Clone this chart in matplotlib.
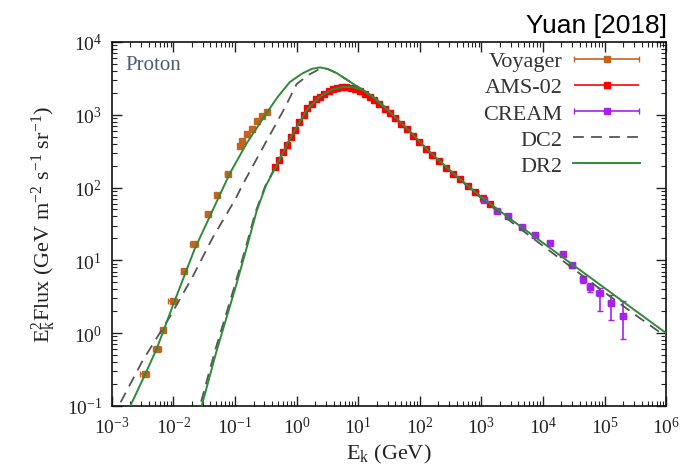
import numpy as np
import matplotlib
matplotlib.use('Agg')
import matplotlib.pyplot as plt
from matplotlib.container import ErrorbarContainer
from matplotlib.legend_handler import HandlerErrorbar
from matplotlib.ticker import LogLocator, NullFormatter

plt.rcParams['font.family'] = ['Liberation Serif', 'DejaVu Serif']
plt.rcParams['mathtext.fontset'] = 'custom'
plt.rcParams['mathtext.rm'] = 'Liberation Serif'
plt.rcParams['mathtext.it'] = 'Liberation Serif:italic'
plt.rcParams['mathtext.bf'] = 'Liberation Serif:bold'

# Voyager data (E in GeV, E^2 flux)
voyager_E = [3.44e-3, 5.4e-3, 6.7e-3, 9.8e-3, 1.48e-2, 2.2e-2, 3.6e-2, 5.1e-2,
             7.6e-2, 0.12, 0.129, 0.155, 0.187, 0.226, 0.272, 0.328]
voyager_F = [0.277, 0.61, 1.12, 2.8, 7.1, 16.7, 43, 80,
             155, 366, 430, 536, 628, 811, 950, 1080]
voyager_dE = [0.6e-3, 0.8e-3, 0.5e-3, 1.6e-3, 1.5e-3, 3.5e-3, 4e-3, 3e-3,
              6e-3, 8e-3, 8e-3, 9e-3, 1e-2, 1.2e-2, 1.4e-2, 1.6e-2]

# AMS-02
ams_E = [0.45, 0.52, 0.60, 0.70, 0.82, 0.95, 1.1, 1.3, 1.5, 1.75, 2.05, 2.4,
         2.8, 3.3, 3.9, 4.6, 5.4, 6.4, 7.6, 9.0, 10.7, 12.8, 15.3, 18.4, 22,
         27, 33, 40, 50, 62, 78, 98, 125, 160, 205, 265, 345, 450, 600, 800,
         1050, 1400]
ams_F = [190, 240, 309, 389, 490, 617, 794, 1000, 1230, 1413, 1622, 1778,
         1950, 2089, 2239, 2344, 2399, 2399, 2344, 2239, 2089, 1950, 1778,
         1585, 1413, 1202, 1047, 891, 741, 631, 513, 427, 339, 282, 229, 186,
         155, 129, 105, 87, 72, 60]

# CREAM
cream_E = [1.12e3, 1.78e3, 2.7e3, 4.6e3, 7.4e3, 1.29e4, 2.1e4, 3.0e4,
           4.5e4, 5.8e4, 8.3e4, 1.26e5, 2.0e5]
cream_F = [68, 48, 40, 29, 22.4, 17.4, 12.3, 8.5, 5.5, 4.3, 3.6, 2.6, 1.74]
cream_lo = [3, 2.5, 2, 1.5, 1.2, 1.0, 0.8, 0.7, 0.6, 0.6, 1.6, 1.1, 0.9]
cream_hi = [3, 2.5, 2, 1.5, 1.2, 1.0, 0.8, 0.7, 0.6, 0.6, 0.6, 0.7, 1.05]
cream_dE = [1.2e2, 2e2, 3e2, 5e2, 8e2, 1.4e3, 2.2e3, 3.2e3, 5e3, 6e3, 9e3,
            1.4e4, 2.2e4]

# DR2 model: interstellar and modulated
dr2_E = [1.0e-3, 2.0e-3, 3.5e-3, 5.4e-3, 1.0e-2, 2.2e-2, 5.0e-2, 8.3e-2,
         0.158, 0.33, 0.5, 0.78, 1.26, 1.78, 2.4, 3.16, 4.5, 6.3, 10, 15.8,
         31.6, 62, 145, 347, 1e3, 3.16e3, 1e4, 3.16e4, 1e5, 3.16e5, 1e6]
dr2_F = [0.028, 0.1, 0.275, 0.62, 2.5, 14.1, 63, 158, 417, 1070, 1780, 2820,
         3720, 4270, 4470, 4270, 3720, 3090, 2400, 1860, 1120, 646, 309, 158,
         74, 35.5, 17.4, 8.5, 4.17, 2.04, 1.0]
dr2_mod_E = [0.025, 0.0288, 0.050, 0.1, 0.158, 0.224, 0.316, 0.479, 0.708,
             1.0, 1.51, 2.4, 3.9, 5.6, 7.9, 11.9, 20, 31.6]
dr2_mod_F = [0.066, 0.1, 0.56, 4.0, 15.8, 47, 105, 205, 398, 676, 1200,
             1780, 2240, 2400, 2400, 2190, 1620, 1120]

# DC2 model: interstellar and modulated
dc2_E = [1e-3, 1.35e-3, 3.16e-3, 8.7e-3, 2.04e-2, 4.4e-2, 0.1, 0.135, 0.316,
         0.63, 1.0, 1.58, 2.4, 3.16, 4.5, 6.3, 10, 15.8, 31.6, 62, 145, 347,
         1e3, 3.16e3, 1e4, 3.16e4, 1e5, 3.16e5, 1e6]
dc2_F = [0.068, 0.107, 0.417, 1.66, 5.9, 20.9, 67.6, 112, 417, 1200, 2630,
         3550, 4270, 4270, 3720, 3090, 2400, 1860, 1120, 646, 309, 155, 71,
         33, 15.8, 7.6, 3.63, 1.78, 0.89]
dc2_mod_E = [0.0235, 0.027, 0.047, 0.095, 0.152, 0.217, 0.31, 0.47, 0.70,
             1.0, 1.51, 2.4, 3.9, 5.6, 7.9, 11.9, 20, 31.6]
dc2_mod_F = dr2_mod_F

green = '#2f8a3c'
grey = '#555555'
brown = '#c4621f'
purple = '#a421ee'

fig = plt.figure(figsize=(6.86, 4.77), dpi=100)
ax = fig.add_axes([0.163, 0.147, 0.808, 0.763])

voy = ax.errorbar(voyager_E, voyager_F, xerr=voyager_dE, fmt='s', ms=4,
                  color=brown, elinewidth=1.2, capsize=2, zorder=3)
ams = ax.errorbar(ams_E, ams_F, xerr=0, fmt='s', ms=5, color='red',
                  elinewidth=1.2, capsize=0, zorder=3)
cre = ax.errorbar(cream_E, cream_F, xerr=cream_dE, yerr=[cream_lo, cream_hi],
                  fmt='s', ms=4.5, color=purple, mfc=purple, elinewidth=1.2,
                  capsize=2, zorder=3)

dc2, = ax.plot(dc2_E, dc2_F, color=grey, lw=1.3, dashes=(6, 4), zorder=4)
ax.plot(dc2_mod_E, dc2_mod_F, color=grey, lw=1.3, dashes=(6, 4), zorder=4)
dr2, = ax.plot(dr2_E, dr2_F, color=green, lw=1.4, zorder=5)
ax.plot(dr2_mod_E, dr2_mod_F, color=green, lw=1.4, zorder=5)

ax.set_xscale('log')
ax.set_yscale('log')
ax.set_xlim(1e-3, 1e6)
ax.set_ylim(1e-1, 1e4)

for axis in (ax.xaxis, ax.yaxis):
    axis.set_major_locator(LogLocator(base=10, numticks=20))
    axis.set_minor_locator(LogLocator(base=10, subs=np.arange(2, 10), numticks=20))
    axis.set_minor_formatter(NullFormatter())

ax.tick_params(which='both', direction='in', top=True, right=True,
               colors='#222222', labelsize=14)
ax.tick_params(which='major', length=7, width=1.0, pad=7)
ax.tick_params(which='minor', length=3.5, width=0.8)
for s in ax.spines.values():
    s.set_linewidth(1.2)
    s.set_color('#111111')

ax.set_xlabel(r'E$_\mathrm{k}$ (GeV)', fontsize=16, color='#222222', labelpad=4)
ax.set_ylabel(r'E$_\mathrm{k}^2$Flux (GeV m$^{-2}$ s$^{-1}$ sr$^{-1}$)',
              fontsize=16, color='#222222', labelpad=6)

ax.text(0.025, 0.965, 'Proton', transform=ax.transAxes, fontsize=15,
        color='#4e5a73', ha='left', va='top')

leg = ax.legend([voy, ams, cre, dc2, dr2],
                ['Voyager', 'AMS-02', 'CREAM', 'DC2', 'DR2'],
                loc='upper right', bbox_to_anchor=(0.969, 1.0),
                frameon=False, markerfirst=False, fontsize=16,
                handlelength=3, handletextpad=0.5, labelspacing=0.25,
                borderaxespad=0.0,
                handler_map={ErrorbarContainer: HandlerErrorbar(xerr_size=1.45, yerr_size=0.0)})
for t in leg.get_texts():
    t.set_color('#333333')
    t.set_ha('right')

fig.text(0.972, 0.931, 'Yuan [2018]', fontsize=19, family='Liberation Sans',
         ha='right', va='baseline', color='black')

fig.savefig('out.png', dpi=100)
